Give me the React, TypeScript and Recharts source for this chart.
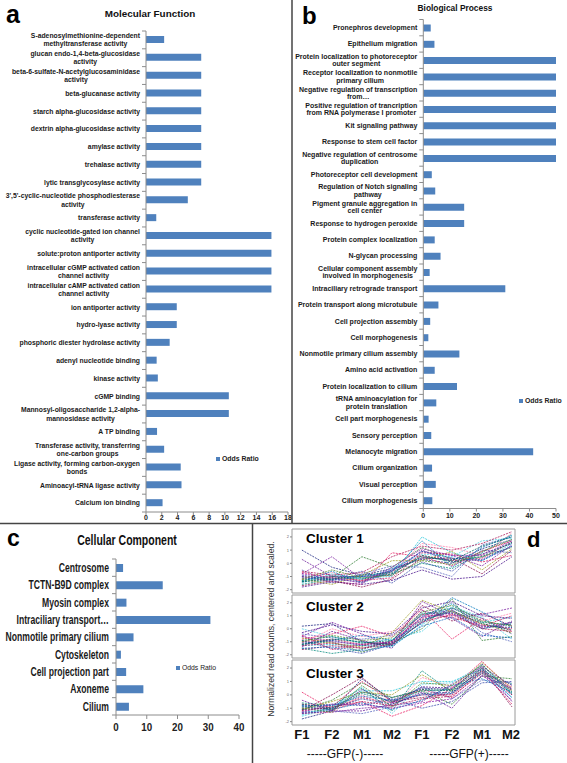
import React from 'react';
import { BarChart, Bar, XAxis, YAxis, Legend, LineChart, Line, ReferenceArea } from 'recharts';

// a: Molecular Function
const mfTerms = [
  'S-adenosylmethionine-dependent\nmethyltransferase activity',
  'glucan endo-1,4-beta-glucosidase\nactivity',
  'beta-6-sulfate-N-acetylglucosaminidase\nactivity',
  'beta-glucanase activity',
  'starch alpha-glucosidase activity',
  'dextrin alpha-glucosidase activity',
  'amylase activity',
  'trehalase activity',
  'lytic transglycosylase activity',
  "3',5'-cyclic-nucleotide phosphodiesterase\nactivity",
  'transferase activity',
  'cyclic nucleotide-gated ion channel\nactivity',
  'solute:proton antiporter activity',
  'intracellular cGMP activated cation\nchannel activity',
  'intracellular cAMP activated cation\nchannel activity',
  'ion antiporter activity',
  'hydro-lyase activity',
  'phosphoric diester hydrolase activity',
  'adenyl nucleotide binding',
  'kinase activity',
  'cGMP binding',
  'Mannosyl-oligosaccharide 1,2-alpha-\nmannosidase activity',
  'A TP binding',
  'Transferase activity, transferring\none-carbon groups',
  'Ligase activity, forming carbon-oxygen\nbonds',
  'Aminoacyl-tRNA ligase activity',
  'Calcium ion binding',
];
const mfOdds = [2.3, 7, 7, 7, 7, 7, 7, 7, 7, 5.3, 1.3, 15.9, 15.9, 15.9, 15.9, 3.9, 3.9, 3.0, 1.35, 1.5, 10.5, 10.5, 1.4, 2.3, 4.4, 4.5, 2.1];
const mfTicks = [0, 2, 4, 6, 8, 10, 12, 14, 16, 18];

// b: Biological Process
const bpTerms = [
  'Pronephros development',
  'Epithelium migration',
  'Protein localization to photoreceptor\nouter segment',
  'Receptor localization to nonmotile\nprimary cilium',
  'Negative regulation of transcription\nfrom…',
  'Positive regulation of trancription\nfrom RNA polymerase I promoter',
  'Kit signaling pathway',
  'Response to stem cell factor',
  'Negative regulation of centrosome\nduplication',
  'Photoreceptor cell development',
  'Regulation of Notch signaling\npathway',
  'Pigment granule aggregation in\ncell center',
  'Response to hydrogen peroxide',
  'Protein complex localization',
  'N-glycan processing',
  'Cellular component assembly\ninvolved in morphogenesis',
  'Intraciliary retrograde transport',
  'Protein transport along microtubule',
  'Cell projection assembly',
  'Cell morphogenesis',
  'Nonmotile primary cilium assembly',
  'Amino acid activation',
  'Protein localization to cilium',
  'tRNA aminoacylation for\nprotein translation',
  'Cell part morphogenesis',
  'Sensory perception',
  'Melanocyte migration',
  'Cilium organization',
  'Visual perception',
  'Cilium morphogenesis',
];
const bpOdds = [2.8, 4.2, 50, 50, 50, 50, 50, 50, 50, 3.2, 4.5, 15.4, 15.4, 4.3, 6.5, 2.4, 30.9, 5.7, 2.6, 1.9, 13.6, 4.3, 12.7, 4.9, 2.0, 3.0, 41.4, 3.3, 4.7, 3.4];
const bpTicks = [0, 10, 20, 30, 40, 50];

// c: Cellular Component
const ccTerms = [
  'Centrosome',
  'TCTN-B9D complex',
  'Myosin complex',
  'Intraciliary transport…',
  'Nonmotile primary cilium',
  'Cytoskeleton',
  'Cell projection part',
  'Axoneme',
  'Cilium',
];
const ccOdds = [2.3, 15.2, 3.4, 30.7, 5.7, 1.6, 3.3, 8.9, 4.2];
const ccTicks = [0, 10, 20, 30, 40];

// d: expression clusters (F1, F2, M1, M2 for GFP(-) then GFP(+))
const sampleLabels = ['F1', 'F2', 'M1', 'M2', 'F1', 'F2', 'M1', 'M2'];
const sampleIndex = [0, 1, 2, 3, 4, 5, 6, 7];
const clusterTicks = [-2, -1, 0, 1, 2];

const cluster1 = [
  [-1.2, -1.0, -1.3, -0.6, 0.6, 0.2, 0.4, 1.6],
  [1.0, -0.3, -0.9, -0.4, 0.3, 0.0, 1.1, 1.8],
  [-1.6, -1.2, -1.0, -0.8, 0.0, -0.4, 0.8, 2.2],
  [-0.8, 0.5, -1.2, -0.5, 0.9, 0.6, -0.2, 1.4],
  [-1.4, -1.1, 0.5, -0.3, 1.2, 0.3, 0.5, 1.2],
  [-1.0, -1.4, -1.6, 0.8, 0.5, -0.2, 0.9, 1.7],
  [-1.3, -0.9, -1.1, -1.0, 2.0, 0.8, 0.2, 1.5],
  [-0.5, -1.5, -0.8, -0.2, -0.3, -1.0, 1.4, 2.0],
  [-1.7, -1.3, -1.8, -1.2, 0.4, 0.4, -0.8, 1.0],
  [-1.1, -0.7, -1.4, -0.7, 1.5, 1.2, 0.6, 2.3],
  [-0.9, -1.2, -0.6, -1.5, 0.1, -0.6, 1.0, 0.8],
  [-1.5, -0.8, -1.2, -0.4, 0.7, 0.5, 1.7, 1.9],
  [0.3, -1.0, -1.0, -0.9, 1.0, 0.1, 0.3, 1.3],
  [-1.2, -1.6, -0.9, 0.2, 0.2, 0.9, -0.5, 1.1],
  [-1.4, -0.6, -1.5, -0.6, 1.7, -0.3, 1.2, 2.1],
  [-0.7, -1.1, -1.3, -1.1, 0.8, 0.7, 0.1, 0.6],
  [-1.0, -1.2, -1.4, -0.5, 0.4, 0.3, 0.7, 1.5],
  [-1.3, -1.0, -1.2, -0.8, 0.6, 0.1, 0.5, 1.6],
  [-0.6, -0.9, -0.7, 0.5, 1.3, 1.0, 1.5, 2.4],
  [-1.8, -1.4, -1.6, -1.3, -0.5, -1.2, -1.0, 0.5],
  [-1.1, -1.3, -1.0, -0.6, 0.9, 0.4, 0.2, 1.3],
  [-1.2, -0.5, -1.1, -0.9, 0.2, -0.1, 0.9, 1.8],
  [-0.8, -1.1, -1.5, -0.3, 1.1, 0.6, 0.6, 1.7],
  [-1.4, -1.2, -0.9, -0.7, 0.5, 0.2, 1.3, 2.0],
];
const cluster2 = [
  [-1.0, -0.8, -1.2, -1.0, 0.8, 1.4, 0.3, 0.0],
  [0.2, 0.4, -1.0, -1.2, 0.5, 1.6, 0.8, -0.4],
  [-1.5, -1.9, -1.6, -0.9, 1.2, 1.2, 0.0, 0.5],
  [-0.6, 0.5, -0.4, -1.3, 2.1, 1.0, 1.1, 1.6],
  [-1.2, -1.0, -1.8, -1.1, 0.0, 2.3, -0.9, -0.6],
  [-0.8, -0.4, 0.2, -0.6, 1.5, -0.8, 0.8, -0.2],
  [-1.3, -1.2, -1.3, -1.4, 0.3, 1.9, 0.5, 0.9],
  [-0.4, -0.7, -0.8, -0.5, 1.0, 1.5, -0.3, -1.0],
  [-1.6, -1.3, -1.5, -1.0, 1.8, 0.6, 1.2, 0.2],
  [-1.1, 0.0, -0.6, -0.2, 0.6, 1.1, 0.6, 1.2],
  [-0.9, -1.5, -1.9, -1.2, 0.9, 2.0, 0.0, 0.4],
  [0.0, -0.6, -1.1, -0.8, -0.2, 1.7, 0.9, -0.8],
  [-1.4, -0.2, -0.9, -1.5, 1.4, 0.8, -0.6, 0.6],
  [-0.7, -1.1, -1.4, -0.3, 2.2, 1.3, 0.4, -0.3],
  [-1.2, -0.9, -0.5, -0.9, 0.4, 2.4, 1.3, 0.1],
  [-0.5, -1.6, -1.2, -1.1, 1.1, 0.9, 0.2, 1.0],
  [-1.1, -0.9, -1.3, -1.1, 0.7, 1.3, 0.2, 0.1],
  [-0.9, -0.6, -1.1, -0.9, 1.1, 1.6, 0.5, 0.3],
  [-1.3, -1.1, -1.5, -1.2, 0.5, 1.1, 0.0, -0.2],
  [-0.3, 0.3, -0.2, -0.4, 1.6, 2.1, 1.0, 0.8],
  [-1.5, -1.4, -1.7, -1.3, 0.2, 0.9, -0.5, -0.7],
  [-1.0, -0.5, -0.9, -0.7, 1.3, 1.8, 0.6, 0.2],
  [-0.6, -1.0, -1.2, -1.0, 0.9, 1.2, 0.1, 0.5],
  [-1.2, -0.8, -1.0, -1.3, 0.6, 1.4, 0.4, -0.1],
];
const cluster3 = [
  [-1.0, -1.0, -0.2, -0.6, 0.0, 0.0, 1.8, 0.3],
  [-1.8, -1.2, 1.2, -0.4, 0.5, 0.4, 2.3, 0.0],
  [-0.6, -0.8, 0.5, -1.2, 1.8, 0.2, 1.6, 0.8],
  [-1.3, -1.3, -1.0, -0.8, -0.5, 0.8, 2.1, -0.5],
  [-1.1, -0.4, 0.9, -0.2, 0.3, -0.7, 1.4, 1.2],
  [0.2, -1.1, -0.5, -1.6, -0.8, 0.5, 2.5, 0.4],
  [-1.5, -0.9, 0.3, 0.3, 1.0, 1.0, 1.9, -0.2],
  [-0.8, -1.2, -1.4, -0.9, 0.6, -0.3, 1.1, 0.9],
  [-1.2, 0.0, 1.3, -0.5, -0.2, 0.1, 2.0, -0.9],
  [-1.4, -1.3, 0.0, -1.0, 1.3, 0.6, 1.7, 0.6],
  [-0.9, -0.7, -0.8, -0.3, -1.0, -0.5, 0.9, 1.0],
  [-1.6, -1.0, 0.6, -1.4, 0.8, 0.9, 2.2, 0.1],
  [-0.4, -1.2, -1.2, -0.7, 0.2, -1.0, 1.5, -0.4],
  [-1.1, -0.5, 0.2, 0.0, 1.5, 0.3, 2.4, 0.5],
  [-1.3, -1.1, -0.6, -1.1, -0.4, 0.7, 1.2, 0.2],
  [-0.7, -0.9, 1.0, -0.5, 0.4, -0.2, 1.8, -0.7],
  [-1.1, -1.0, -0.3, -0.7, 0.1, 0.2, 1.9, 0.4],
  [-0.9, -1.1, 0.1, -0.5, 0.3, 0.4, 2.0, 0.2],
  [-1.2, -0.9, -0.5, -0.8, -0.3, -0.1, 1.6, 0.0],
  [-1.4, -1.2, 0.4, -0.6, 0.6, 0.5, 2.1, 0.7],
  [-0.8, -0.8, -0.1, -0.4, 0.0, 0.1, 1.7, -0.2],
  [-1.0, -1.3, 0.7, -0.9, 0.9, 0.7, 2.2, 0.3],
  [-1.3, -0.7, -0.7, -1.0, -0.6, -0.3, 1.4, 0.5],
  [-0.7, -1.0, 0.2, -0.2, 0.4, 0.3, 1.8, 0.1],
];
const lineColors = [
  '#c2185b', '#1a237e', '#00897b', '#7b1fa2', '#2e7d32', '#e91e63', '#26c6da', '#5c6bc0',
  '#880e4f', '#ff80ab', '#3949ab', '#4dd0e1', '#6a1b9a', '#9e9d24', '#0277bd', '#d81b60',
  '#283593', '#00796b', '#ad1457', '#4a148c', '#1565c0', '#558b2f', '#8e24aa', '#006064',
];

const BAR = '#4f81bd';
const AXIS = '#8c8c8c';
const FONT = '"Liberation Sans", Arial, sans-serif';

let ctx: CanvasRenderingContext2D | null = null;
function measure(text: string, font: string) {
  if (!ctx) ctx = document.createElement('canvas').getContext('2d');
  if (!ctx) return text.length * 4;
  ctx.font = font;
  return ctx.measureText(text).width;
}

// category tick: wrapped lines centred in a block that is right-aligned to the axis,
// plus Excel-style tick marks between categories. sx squeezes the text horizontally.
function termTick(fontSize: number, lineGap: number, band: number, count: number, gap: number, sx = 1) {
  return (props: any) => {
    const { x, y, payload, index } = props;
    const lines = String(payload.value).split('\n');
    const font = `bold ${fontSize}px ${FONT}`;
    const maxW = Math.max(...lines.map((l) => measure(l, font))) * sx;
    const cx = x - gap - maxW / 2;
    const top = y - ((lines.length - 1) * lineGap) / 2;
    return (
      <g>
        <line x1={x} x2={x - 4} y1={y - band / 2} y2={y - band / 2} stroke={AXIS} />
        {index === count - 1 && <line x1={x} x2={x - 4} y1={y + band / 2} y2={y + band / 2} stroke={AXIS} />}
        <g transform={`translate(${cx} 0) scale(${sx} 1)`}>
          <text textAnchor="middle" fontSize={fontSize} fontWeight="bold" fontFamily={FONT} fill="#1a1a1a">
            {lines.map((l, i) => (
              <tspan key={i} x={0} y={top + i * lineGap} dy="0.35em">
                {l}
              </tspan>
            ))}
          </text>
        </g>
      </g>
    );
  };
}

function narrowNumberTick(props: any) {
  const { x, y, payload } = props;
  return (
    <g transform={`translate(${x} ${y}) scale(0.85 1)`}>
      <text textAnchor="middle" dy="0.71em" fontSize={11.5} fontWeight="bold" fontFamily={FONT} fill="#222">
        {payload.value}
      </text>
    </g>
  );
}

function oddsLegend(fontSize: number, weight: string) {
  return () => (
    <div style={{ display: 'flex', alignItems: 'center', fontFamily: FONT, fontSize, fontWeight: weight as any, color: '#222', whiteSpace: 'nowrap', lineHeight: 1 }}>
      <span style={{ display: 'inline-block', width: 4, height: 4, background: BAR, marginRight: 2 }} />
      Odds Ratio
    </div>
  );
}

const mfData = mfTerms.map((name, i) => ({ name, odds: mfOdds[i] }));
const bpData = bpTerms.map((name, i) => ({ name, odds: bpOdds[i] }));
const ccData = ccTerms.map((name, i) => ({ name, odds: ccOdds[i] }));

function clusterTable(lines: number[][]) {
  return sampleIndex.map((x) => {
    const row: Record<string, number> = { x };
    lines.forEach((l, j) => {
      row['l' + j] = l[x];
    });
    return row;
  });
}

function ClusterChart({ lines, top, plotH, showX }: { lines: number[][]; top: number; plotH: number; showX: boolean }) {
  const data = clusterTable(lines);
  const height = 4 + plotH + (showX ? 20 : 4);
  return (
    <div style={{ position: 'absolute', left: 250, top }}>
      <LineChart width={270} height={height} data={data} margin={{ top: 4, right: 5, bottom: showX ? 0 : 4, left: 34 }}>
        <ReferenceArea x1={-0.33} x2={7.1} y1={-2.25} y2={2.6} fill="#ffffff" stroke="#9a9a9a" strokeWidth={1} />
        <XAxis
          type="number"
          dataKey="x"
          domain={[-0.33, 7.1]}
          ticks={sampleIndex}
          allowDataOverflow
          hide={!showX}
          height={20}
          axisLine={false}
          tickLine={false}
          tickSize={0}
          tickMargin={5}
          tickFormatter={(v: number) => sampleLabels[v]}
          tick={{ fontSize: 13, fontWeight: 'bold', fill: '#111', fontFamily: FONT }}
        />
        <YAxis
          type="number"
          domain={[-2.25, 2.6]}
          ticks={clusterTicks}
          allowDataOverflow
          width={8}
          axisLine={false}
          tickSize={2}
          tickMargin={1}
          stroke="#888"
          tick={{ fontSize: 4, fill: '#666', fontFamily: FONT }}
        />
        {lines.map((_, j) => (
          <Line
            key={j}
            type="linear"
            dataKey={'l' + j}
            stroke={lineColors[j % lineColors.length]}
            strokeWidth={0.9}
            strokeDasharray="2 1"
            strokeOpacity={0.85}
            dot={false}
            isAnimationActive={false}
          />
        ))}
      </LineChart>
    </div>
  );
}

export default function App() {
  const mfBand = 481 / mfTerms.length;
  const bpBand = 489 / bpTerms.length;
  const ccBand = 156 / ccTerms.length;
  return (
    <div style={{ position: 'absolute', left: 0, top: 0, width: 567, height: 763, background: '#fff', overflow: 'hidden', opacity: 0.999 }}>
      {/* a */}
      <div style={{ position: 'absolute', left: 0, top: 0 }}>
        <BarChart width={300} height={530} data={mfData} layout="vertical" margin={{ top: 31, right: 12, bottom: 0, left: 0 }}>
          <XAxis
            type="number"
            domain={[0, 18]}
            ticks={mfTicks}
            height={18}
            stroke={AXIS}
            tickSize={3}
            tickMargin={0}
            tick={{ fontSize: 7, fontWeight: 'bold', fill: '#222', fontFamily: FONT }}
          />
          <YAxis
            type="category"
            dataKey="name"
            width={146}
            interval={0}
            axisLine={{ stroke: AXIS }}
            tickLine={false}
            tickSize={0}
            tickMargin={0}
            tick={termTick(6.8, 8.3, mfBand, mfTerms.length, 6)}
          />
          <Legend layout="vertical" align="center" verticalAlign="middle" wrapperStyle={{ left: 216, top: 456, width: 'auto' }} content={oddsLegend(6.9, 'bold')} />
          <Bar dataKey="odds" name="Odds Ratio" fill={BAR} barSize={7} isAnimationActive={false} />
        </BarChart>
      </div>

      {/* b */}
      <div style={{ position: 'absolute', left: 292, top: 0 }}>
        <BarChart width={275} height={525} data={bpData} layout="vertical" margin={{ top: 19.5, right: 11, bottom: 0, left: 0 }}>
          <XAxis
            type="number"
            domain={[0, 50]}
            ticks={bpTicks}
            height={16.5}
            stroke={AXIS}
            tickSize={3}
            tickMargin={2}
            tick={{ fontSize: 7, fontWeight: 'bold', fill: '#222', fontFamily: FONT }}
          />
          <YAxis
            type="category"
            dataKey="name"
            width={131.3}
            interval={0}
            axisLine={{ stroke: AXIS }}
            tickLine={false}
            tickSize={0}
            tickMargin={0}
            tick={termTick(7, 7.4, bpBand, bpTerms.length, 6)}
          />
          <Legend layout="vertical" align="center" verticalAlign="middle" wrapperStyle={{ left: 227, top: 398, width: 'auto' }} content={oddsLegend(6.9, 'bold')} />
          <Bar dataKey="odds" name="Odds Ratio" fill={BAR} barSize={7} isAnimationActive={false} />
        </BarChart>
      </div>

      {/* c */}
      <div style={{ position: 'absolute', left: 0, top: 523 }}>
        <BarChart width={250} height={212} data={ccData} layout="vertical" margin={{ top: 36, right: 11, bottom: 0, left: 0 }}>
          <XAxis
            type="number"
            domain={[0, 40]}
            ticks={ccTicks}
            height={20}
            stroke={AXIS}
            tickSize={4}
            tickMargin={4}
            tick={narrowNumberTick}
          />
          <YAxis
            type="category"
            dataKey="name"
            width={116}
            interval={0}
            axisLine={{ stroke: AXIS }}
            tickLine={false}
            tickSize={0}
            tickMargin={0}
            tick={termTick(12.5, 10, ccBand, ccTerms.length, 7, 0.69)}
          />
          <Legend layout="vertical" align="center" verticalAlign="middle" wrapperStyle={{ left: 176, top: 142, width: 'auto' }} content={oddsLegend(6.8, 'normal')} />
          <Bar dataKey="odds" name="Odds Ratio" fill={BAR} barSize={8} isAnimationActive={false} />
        </BarChart>
      </div>

      {/* d */}
      <ClusterChart lines={cluster1} top={525} plotH={64} showX={false} />
      <ClusterChart lines={cluster2} top={591} plotH={63} showX={false} />
      <ClusterChart lines={cluster3} top={656} plotH={65} showX={true} />

      <svg width={567} height={763} style={{ position: 'absolute', left: 0, top: 0, pointerEvents: 'none' }}>
        <line x1={292} x2={292} y1={0} y2={523} stroke="#444" strokeWidth={1.5} />
        <line x1={0} x2={567} y1={523.5} y2={523.5} stroke="#444" strokeWidth={1.5} />
        <line x1={252.5} x2={252.5} y1={523} y2={763} stroke="#444" strokeWidth={1.5} />

        <text x={6} y={23} fontSize={25} fontWeight="bold" fontFamily={FONT} fill="#000">a</text>
        <text x={150} y={17} textAnchor="middle" fontSize={9.9} fontWeight="bold" fontFamily={FONT} fill="#111">Molecular Function</text>

        <text x={302} y={24} fontSize={24} fontWeight="bold" fontFamily={FONT} fill="#000">b</text>
        <text x={455} y={11} textAnchor="middle" fontSize={8.4} fontWeight="bold" fontFamily={FONT} fill="#111">Biological Process</text>

        <text x={7} y={546} fontSize={23} fontWeight="bold" fontFamily={FONT} fill="#000">c</text>
        <g transform="translate(127 545) scale(0.75 1)">
          <text x={0} y={0} textAnchor="middle" fontSize={14} fontWeight="bold" fontFamily={FONT} fill="#111">Cellular Component</text>
        </g>

        <text x={527} y={547} fontSize={22} fontWeight="bold" fontFamily={FONT} fill="#000">d</text>
        <text x={306} y={543} fontSize={13.5} fontWeight="bold" fontFamily={FONT} fill="#000">Cluster 1</text>
        <text x={306} y={611} fontSize={13.5} fontWeight="bold" fontFamily={FONT} fill="#000">Cluster 2</text>
        <text x={306} y={678} fontSize={13.5} fontWeight="bold" fontFamily={FONT} fill="#000">Cluster 3</text>
        <text x={274} y={629} transform="rotate(-90 274 629)" textAnchor="middle" fontSize={8.6} fontFamily={FONT} fill="#333">
          Normalized read counts, centered and scaled.
        </text>
        <text x={345} y={758} textAnchor="middle" fontSize={12} fontFamily={FONT} fill="#111">-----GFP(-)-----</text>
        <text x={469} y={758} textAnchor="middle" fontSize={12} fontFamily={FONT} fill="#111">-----GFP(+)-----</text>
      </svg>
    </div>
  );
}
